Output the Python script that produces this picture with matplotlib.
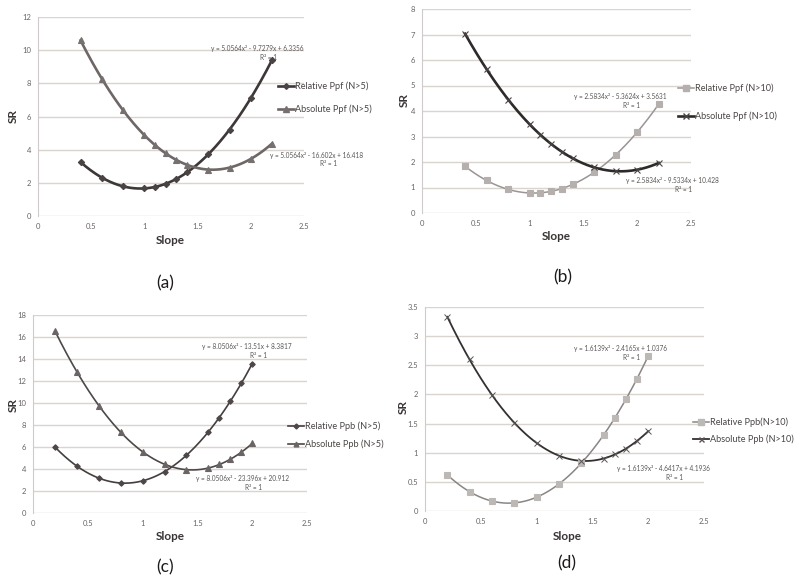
import numpy as np
import matplotlib
matplotlib.use("Agg")
import matplotlib.pyplot as plt
from matplotlib.lines import Line2D

plt.rcParams["font.family"] = ["Lato", "DejaVu Sans"]

W, H = 800, 583

# panel (a): Ppf, N>5
x_a = [0.4, 0.6, 0.8, 1.0, 1.1, 1.2, 1.3, 1.4, 1.6, 1.8, 2.0, 2.2]
rel_a = [3.25, 2.32, 1.79, 1.66, 1.75, 1.94, 2.24, 2.63, 3.72, 5.21, 7.11, 9.41]
abs_a = [10.59, 8.28, 6.37, 4.87, 4.27, 3.78, 3.38, 3.09, 2.80, 2.92, 3.44, 4.37]
eq_a = ["y = 5.0564x² - 9.7279x + 6.3356", "y = 5.0564x² - 16.602x + 16.418"]
leg_a = ["Relative Ppf (N>5)", "Absolute Ppf (N>5)"]

# panel (b): Ppf, N>10
x_b = [0.4, 0.6, 0.8, 1.0, 1.1, 1.2, 1.3, 1.4, 1.6, 1.8, 2.0, 2.2]
rel_b = [1.83, 1.28, 0.93, 0.78, 0.79, 0.85, 0.96, 1.12, 1.60, 2.28, 3.17, 4.27]
abs_b = [7.03, 5.64, 4.45, 3.48, 3.07, 2.71, 2.40, 2.14, 1.79, 1.64, 1.70, 1.96]
eq_b = ["y = 2.5834x² - 5.3624x + 3.5631", "y = 2.5834x² - 9.5334x + 10.428"]
leg_b = ["Relative Ppf (N>10)", "Absolute Ppf (N>10)"]

# panel (c): Ppb, N>5
x_c = [0.2, 0.4, 0.6, 0.8, 1.0, 1.2, 1.4, 1.6, 1.7, 1.8, 1.9, 2.0]
rel_c = [6.00, 4.27, 3.17, 2.73, 2.92, 3.76, 5.25, 7.38, 8.68, 10.15, 11.78, 13.56]
abs_c = [16.56, 12.84, 9.77, 7.35, 5.57, 4.43, 3.94, 4.09, 4.41, 4.88, 5.52, 6.32]
eq_c = ["y = 8.0506x² - 13.51x + 8.3817", "y = 8.0506x² - 23.396x + 20.912"]
leg_c = ["Relative Ppb (N>5)", "Absolute Ppb (N>5)"]

# panel (d): Ppb, N>10
x_d = [0.2, 0.4, 0.6, 0.8, 1.0, 1.2, 1.4, 1.6, 1.7, 1.8, 1.9, 2.0]
rel_d = [0.62, 0.33, 0.17, 0.14, 0.24, 0.46, 0.82, 1.30, 1.59, 1.92, 2.27, 2.66]
abs_d = [3.33, 2.60, 1.99, 1.51, 1.17, 0.95, 0.86, 0.90, 0.97, 1.07, 1.20, 1.37]
eq_d = ["y = 1.6139x² - 2.4165x + 1.0376", "y = 1.6139x² - 4.6417x + 4.1936"]
leg_d = ["Relative Ppb(N>10)", "Absolute Ppb (N>10)"]

grid_col = "#dad4cf"
tick_col = "#6a6464"

fig = plt.figure(figsize=(W / 100, H / 100), dpi=100)
fig.patch.set_facecolor("white")


def fx(px):
    return px / W


def fy(py):
    return 1 - py / H


def panel(box, ymax, ystep, xs, rel, ab, styles, eqs, eqpos, legs, legpos, lab, labpos, srpos, slopepos):
    x0, x1, yt, yb = box
    ax = fig.add_axes([fx(x0), fy(yb), fx(x1 - x0), (yb - yt) / H])
    ax.set_xlim(0, 2.5)
    ax.set_ylim(0, ymax)
    ax.set_xticks(np.arange(0, 2.51, 0.5))
    ax.set_xticklabels(["0", "0.5", "1", "1.5", "2", "2.5"])
    yt_vals = np.arange(0, ymax + ystep / 2, ystep)
    ax.set_yticks(yt_vals)
    ax.set_yticklabels([f"{v:g}" for v in yt_vals])
    ax.tick_params(length=0, labelsize=5.5, colors=tick_col, pad=5)
    for v in yt_vals:
        ax.axhline(v, color=grid_col, lw=1.0, zorder=0)
    for s in ["top", "right", "bottom"]:
        ax.spines[s].set_visible(False)
    ax.spines["left"].set_color("#d0cbcb")
    ax.spines["left"].set_linewidth(0.8)

    xx = np.linspace(min(xs), max(xs), 200)
    for ys, st in zip([rel, ab], styles):
        c = np.polyfit(xs, ys, 2)
        ax.plot(xx, np.polyval(c, xx), color=st["lc"], lw=st["lw"], zorder=3)
        ax.plot(xs, ys, ls="none", marker=st["m"], ms=st["ms"], color=st["mc"],
                mec=st["mc"], mew=st.get("mew", 0.8), zorder=4)

    for (t, (ex, ey)) in zip(eqs, eqpos):
        fig.text(fx(ex), fy(ey), t, fontsize=4.7, color="#5a5555", ha="center", va="center")
        fig.text(fx(ex + 12), fy(ey + 9), "R² = 1", fontsize=4.7, color="#5a5555", ha="center", va="center")

    for t, (lx, ly), st in zip(legs, legpos, styles):
        fig.add_artist(Line2D([fx(lx - 16), fx(lx)], [fy(ly), fy(ly)], color=st["lc"],
                              lw=st["lw"], transform=fig.transFigure))
        fig.add_artist(Line2D([fx(lx - 8)], [fy(ly)], marker=st["m"], ms=st["ms"] * 0.9,
                              color=st["mc"], mec=st["mc"], ls="none", transform=fig.transFigure))
        fig.text(fx(lx + 1), fy(ly), t, fontsize=6.6, color="#4a4545", ha="left", va="center")

    fig.text(fx(srpos[0]), fy(srpos[1]), "SR", fontsize=8.5, fontweight="bold", color="#3a3535",
             rotation=90, ha="center", va="center")
    fig.text(fx(slopepos[0]), fy(slopepos[1]), "Slope", fontsize=8.5, fontweight="bold", color="#3a3535",
             ha="center", va="center")
    fig.text(fx(labpos[0]), fy(labpos[1]), lab, fontsize=12.5, color="#1e1a1a", ha="center", va="center")


st_a = [dict(lc="#3e3737", lw=1.9, m="D", ms=3.2, mc="#4a4343"),
        dict(lc="#6e6766", lw=1.9, m="^", ms=4.2, mc="#777070")]
st_b = [dict(lc="#9a9594", lw=1.1, m="s", ms=4.5, mc="#b5b0ae"),
        dict(lc="#2f2a2a", lw=1.9, m="x", ms=4.5, mc="#4a4444", mew=0.8)]
st_c = [dict(lc="#453e3e", lw=1.2, m="D", ms=2.8, mc="#4e4747"),
        dict(lc="#4e4848", lw=1.2, m="^", ms=3.8, mc="#6a6464")]
st_d = [dict(lc="#8a8584", lw=1.1, m="s", ms=4.5, mc="#bcb8b6"),
        dict(lc="#353030", lw=1.3, m="x", ms=4, mc="#5a5454", mew=0.7)]

panel((38, 304, 17, 216), 12, 2, x_a, rel_a, abs_a, st_a, eq_a, [(257, 48), (317, 155)],
      leg_a, [(294, 86), (294, 109)], "(a)", (165, 283), (13, 116), (170, 240))
panel((422, 691, 9, 213), 8, 1, x_b, rel_b, abs_b, st_b, eq_b, [(620, 96), (672, 180)],
      leg_b, [(694, 88), (694, 116)], "(b)", (563, 277), (404, 100), (556, 237))
panel((33, 307, 315, 513), 18, 2, x_c, rel_c, abs_c, st_c, eq_c, [(247, 346), (242, 478)],
      leg_c, [(304, 426), (304, 444)], "(c)", (165, 567), (13, 405), (170, 537))
panel((425, 704, 307, 511), 3.5, 0.5, x_d, rel_d, abs_d, st_d, eq_d, [(620, 349), (663, 469)],
      leg_d, [(709, 422), (709, 439)], "(d)", (567, 563), (403, 407), (567, 537))

fig.savefig("out.png", dpi=100, facecolor="white")
